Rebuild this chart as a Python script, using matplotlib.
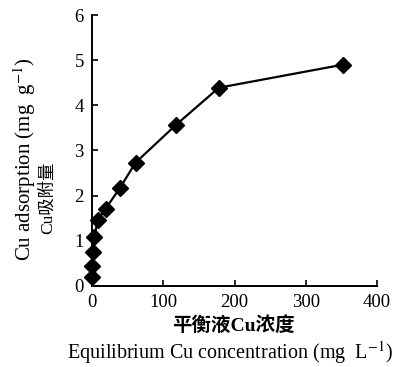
import matplotlib
matplotlib.use("Agg")
from matplotlib import pyplot as plt

# equilibrium Cu concentration (mg/L) vs Cu adsorption (mg/g)
conc = [0, 0, 1, 3, 8, 19, 39, 61, 118, 178, 352]
adsorption = [0.2, 0.43, 0.76, 1.08, 1.46, 1.71, 2.17, 2.73, 3.57, 4.39, 4.9]

x_ticks = [0, 100, 200, 300, 400]
y_ticks = [0, 1, 2, 3, 4, 5, 6]

plt.rcParams["font.family"] = ["Liberation Serif", "Noto Sans CJK SC"]
plt.rcParams["mathtext.fontset"] = "stix"

fig = plt.figure(figsize=(4.04, 3.67), dpi=100)
ax = fig.add_axes([0.228, 0.221, 0.705, 0.738])

ax.plot(conc, adsorption, color="black", linewidth=1.6, marker="D",
        markersize=8.5, markerfacecolor="black", markeredgecolor="black",
        clip_on=False, zorder=3)

ax.set_xlim(0, 400)
ax.set_ylim(0, 6)
ax.set_xticks(x_ticks)
ax.set_yticks(y_ticks)
ax.spines["top"].set_visible(False)
ax.spines["right"].set_visible(False)
ax.spines["left"].set_linewidth(1.4)
ax.spines["bottom"].set_linewidth(1.4)
ax.tick_params(direction="in", length=4, width=1.2, labelsize=13.5, pad=6)

fig.text(0.578, 0.113, "平衡液Cu浓度", ha="center", va="center", fontsize=14,
         fontweight="bold")
fig.text(0.57, 0.04, "Equilibrium Cu concentration (mg  L$^{-1}$)",
         ha="center", va="center", fontsize=14.5)
fig.text(0.062, 0.567, "Cu adsorption (mg  g$^{-1}$)", ha="center",
         va="center", rotation=90, fontsize=15)
fig.text(0.118, 0.462, "Cu吸附量", ha="center", va="center", rotation=90,
         fontsize=12.5)

fig.savefig("out.png", dpi=100)
